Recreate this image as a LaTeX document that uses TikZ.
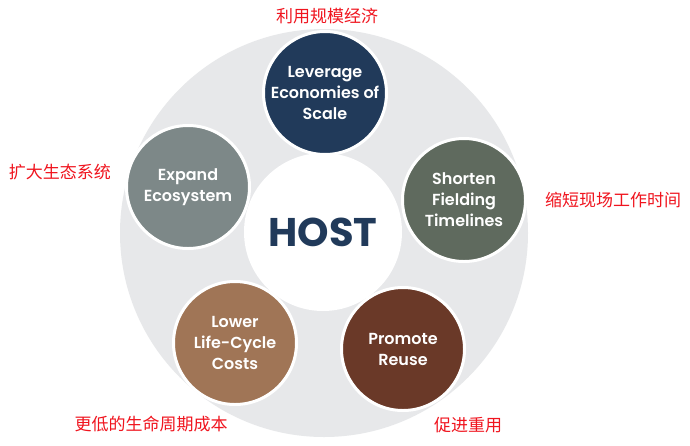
\documentclass[tikz,border=0pt]{standalone}
\usepackage{fontspec}
\setmainfont{Poppins}[BoldFont={* SemiBold}]
\newfontfamily\hostfont{Poppins}
\newfontfamily\cjk{Noto Sans CJK SC}
\definecolor{ringgray}{HTML}{E7E8EA}
\definecolor{navy}{HTML}{213A5A}
\definecolor{sage}{HTML}{5F6A5E}
\definecolor{slate}{HTML}{7D8888}
\definecolor{tan}{HTML}{A07556}
\definecolor{rust}{HTML}{6A3928}
\definecolor{cnred}{HTML}{F0141E}
\begin{document}
\begin{tikzpicture}[x=1pt,y=-1pt,
  item/.style={circle, draw=white, line width=3pt, minimum size=123pt, inner sep=0pt,
    text=white, align=center, font=\fontsize{16}{21}\selectfont\bfseries},
  cn/.style={text=cnred, inner sep=0pt, font=\cjk\fontsize{17}{17}\selectfont}]
\useasboundingbox (0,0) rectangle (690,445);
\fill[white] (0,0) rectangle (690,445);
\node[circle, fill=ringgray, minimum size=408pt, inner sep=0pt] (ring) at (324,233) {};
\node[circle, fill=white, minimum size=158pt, inner sep=0pt, text=navy,
  font=\hostfont\fontsize{40}{40}\selectfont\bfseries] (host) at (323,232) {HOST};
\node[item, fill=navy] (lev) at (325,93) {Leverage\\Economies of\\Scale};
\node[item, fill=sage] (sho) at (464,200) {Shorten\\Fielding\\Timelines};
\node[item, fill=slate] (exp) at (188,187) {Expand\\Ecosystem};
\node[item, fill=tan] (low) at (235,343) {Lower\\Life-Cycle\\Costs};
\node[item, fill=rust] (pro) at (403,349) {Promote\\Reuse};
\node[cn] (cnlev) at (327,16) {利用规模经济};
\node[cn] (cnexp) at (60,172) {扩大生态系统};
\node[cn] (cnsho) at (613,200) {缩短现场工作时间};
\node[cn] (cnlow) at (151,424) {更低的生命周期成本};
\node[cn] (cnpro) at (468,425) {促进重用};
\end{tikzpicture}
\end{document}
